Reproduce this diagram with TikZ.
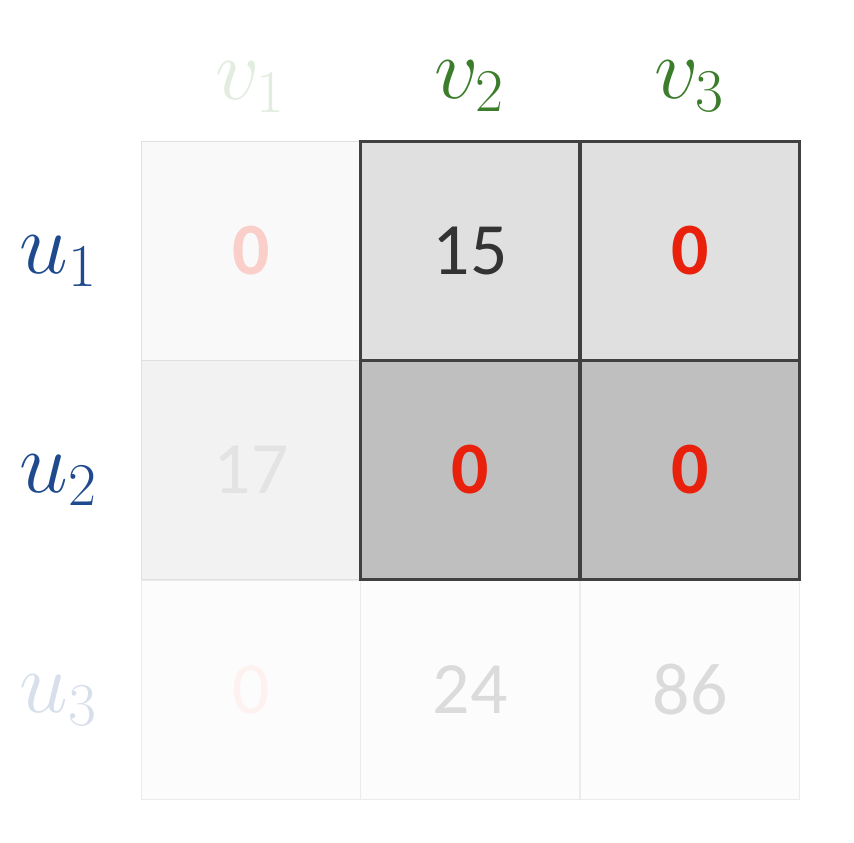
\documentclass[tikz,border=0pt]{standalone}
\usepackage{fontspec}
\setsansfont{Carlito}
\usepackage{xcolor}
\usetikzlibrary{positioning}
\definecolor{ublue}{HTML}{1F4B8E}
\definecolor{vgreen}{HTML}{3C7D2C}
\definecolor{zred}{HTML}{E8200C}
\tikzset{
  cell/.style={draw=black!12, line width=0.5pt, minimum size=2.19cm, inner sep=0pt,
    font=\sffamily\fontsize{21}{25}\selectfont},
  hot/.style={cell, draw=black!75, line width=0.7pt},
  lbl/.style={font=\fontsize{27}{30}\selectfont}
}

\begin{document}
\begin{tikzpicture}
\useasboundingbox (0,0) rectangle (8.54,-8.42);
% faded cells
\node[cell, fill=black!2.5] (c11) at (2.51,-2.51) {\textcolor{zred!22}{\bfseries 0}};
\node[cell, fill=black!5] (c21) at (2.51,-4.70) {\textcolor{black!11}{17}};
\node[cell, draw=black!8, fill=black!1] (c31) at (2.51,-6.90) {\textcolor{zred!6}{0}};
\node[cell, draw=black!8, fill=black!1] (c32) at (4.70,-6.90) {\textcolor{black!14}{24}};
\node[cell, draw=black!8, fill=black!1] (c33) at (6.90,-6.90) {\textcolor{black!14}{86}};
% kept cells
\node[hot, fill=black!12] (c12) at (4.70,-2.51) {\textcolor{black!80}{15}};
\node[hot, fill=black!12] (c13) at (6.90,-2.51) {\textcolor{zred}{\bfseries 0}};
\node[hot, fill=black!25] (c22) at (4.70,-4.70) {\textcolor{zred}{\bfseries 0}};
\node[hot, fill=black!25] (c23) at (6.90,-4.70) {\textcolor{zred}{\bfseries 0}};
% labels
\node[lbl, text=vgreen!15, above=0.16cm of c11] (v1) {$v_1$};
\node[lbl, text=vgreen, above=0.16cm of c12] (v2) {$v_2$};
\node[lbl, text=vgreen, above=0.16cm of c13] (v3) {$v_3$};
\node[lbl, text=ublue, left=0.3cm of c11, yshift=-0.1cm] (u1) {$u_1$};
\node[lbl, text=ublue, left=0.3cm of c21, yshift=-0.1cm] (u2) {$u_2$};
\node[lbl, text=ublue!18, left=0.3cm of c31, yshift=-0.1cm] (u3) {$u_3$};
\end{tikzpicture}
\end{document}
